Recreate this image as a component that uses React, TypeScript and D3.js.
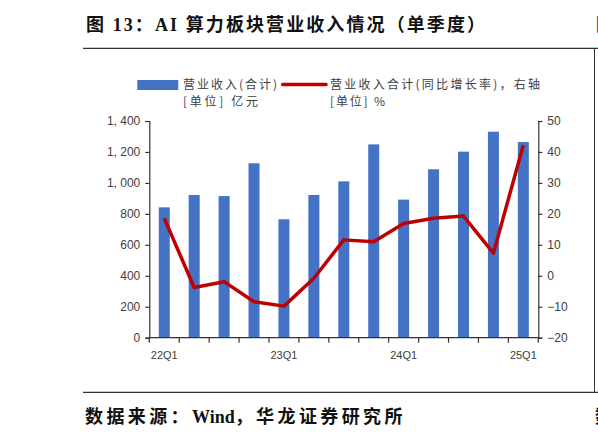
'use client';

import { useEffect, useRef } from 'react';
import * as d3 from 'd3';

// 季度营业收入（亿元）与同比增速（%）
const quarters = ['22Q1', '22Q2', '22Q3', '22Q4', '23Q1', '23Q2', '23Q3', '23Q4', '24Q1', '24Q2', '24Q3', '24Q4', '25Q1'];
const revenue = [842, 922, 915, 1127, 765, 922, 1010, 1249, 892, 1088, 1202, 1331, 1264];
const yoyGrowth = [18.6, -3.8, -1.9, -8.4, -9.8, -0.8, 11.6, 11.0, 16.9, 18.6, 19.3, 7.3, 42.2];
const xTickLabels = ['22Q1', '23Q1', '24Q1', '25Q1'];
const leftTicks = [0, 200, 400, 600, 800, 1000, 1200, 1400];
const rightTicks = [-20, -10, 0, 10, 20, 30, 40, 50];

const title = '图 13：AI 算力板块营业收入情况（单季度）';
const sourceParts = ['数据来源：', 'Wind', '，华龙证券研究所'];
const barLegend = ['营业收入(合计)', '[单位] 亿元'];
const lineLegend = ['营业收入合计(同比增长率)，右轴', '[单位] %'];

const W = 598;
const H = 441;

export default function App() {
    const svgRef = useRef<SVGSVGElement>(null);

    useEffect(() => {
        if (!svgRef.current) return;
        const svg = d3.select(svgRef.current);
        svg.selectAll('*').remove();

        const axisColor = '#333';
        const textColor = '#404040';
        const cjk = "'Noto Sans CJK SC', sans-serif";
        const serif = "'Liberation Serif', 'Noto Sans CJK SC', serif";

        const left = 149.3, right = 538.3, top = 121, bottom = 337.7;

        const x = d3.scaleBand<string>().domain(quarters).range([left, right]).padding(0);
        const yL = d3.scaleLinear().domain([0, 1400]).range([bottom, top]);
        const yR = d3.scaleLinear().domain([-20, 50]).range([bottom, top]);

        // frame lines + title/source
        svg.append('line').attr('x1', 83).attr('x2', W).attr('y1', 48.3).attr('y2', 48.3)
            .attr('stroke', axisColor).attr('stroke-width', 1.3);
        svg.append('line').attr('x1', 83).attr('x2', W).attr('y1', 392.3).attr('y2', 392.3)
            .attr('stroke', axisColor).attr('stroke-width', 1.3);
        svg.append('line').attr('x1', 594.5).attr('x2', 594.5).attr('y1', 48.3).attr('y2', 392.3)
            .attr('stroke', axisColor).attr('stroke-width', 1);

        svg.append('text').text(title)
            .attr('x', 86).attr('y', 31)
            .attr('textLength', 399).attr('lengthAdjust', 'spacing')
            .style('font-family', serif).style('font-weight', 700).style('font-size', '18px')
            .style('fill', '#111');
        // next column's title, cut by the page edge
        svg.append('text').text('图')
            .attr('x', 596).attr('y', 31)
            .style('font-family', serif).style('font-weight', 700).style('font-size', '18px')
            .style('fill', '#111');

        const src = svg.append('text')
            .attr('x', 85).attr('y', 423)
            .style('font-family', serif).style('font-weight', 700).style('font-size', '18px')
            .style('fill', '#111');
        src.selectAll('tspan')
            .data(sourceParts)
            .join('tspan')
            .text(d => d)
            .style('letter-spacing', d => (d === 'Wind' ? '0px' : '3.4px'));
        svg.append('text').text('数')
            .attr('x', 595).attr('y', 423)
            .style('font-family', serif).style('font-weight', 700).style('font-size', '18px')
            .style('fill', '#111');

        // legend
        const lg = svg.append('g');
        lg.append('rect').attr('x', 137.3).attr('y', 80).attr('width', 41).attr('height', 10).attr('fill', '#4472C4');
        lg.append('line').attr('x1', 282.7).attr('x2', 326).attr('y1', 84.5).attr('y2', 84.5)
            .attr('stroke', '#C00000').attr('stroke-width', 3.5).attr('stroke-linecap', 'round');
        const legendText = (s: string, lx: number, ly: number, len: number) =>
            lg.append('text').text(s).attr('x', lx).attr('y', ly)
                .attr('textLength', len).attr('lengthAdjust', 'spacing')
                .style('font-family', cjk).style('font-size', '12px').style('fill', textColor);
        legendText(barLegend[0], 183, 88.5, 94);
        legendText(barLegend[1], 183, 106, 75);
        legendText(lineLegend[0], 330, 88.5, 210);
        legendText(lineLegend[1], 330, 106, 55);

        // bars
        const barW = 11;
        svg.append('g')
            .selectAll('rect')
            .data(revenue)
            .join('rect')
            .attr('x', (d, i) => x(quarters[i])! + x.bandwidth() / 2 - barW / 2)
            .attr('y', d => yL(d))
            .attr('width', barW)
            .attr('height', d => yL(0) - yL(d))
            .attr('fill', '#4472C4');

        // axes
        const styleAxis = (g: d3.Selection<SVGGElement, unknown, null, undefined>) => {
            g.selectAll('path,line').attr('stroke', axisColor).attr('stroke-width', 1.2);
            g.selectAll('text')
                .style('font-family', "'Liberation Sans', Arial, sans-serif")
                .style('font-size', '12px')
                .style('fill', textColor);
        };

        svg.append('g')
            .attr('transform', `translate(${left},0)`)
            .call(d3.axisLeft(yL).tickValues(leftTicks).tickSize(4).tickPadding(5)
                .tickFormat(d => d3.format(',')(d as number).replace(',', ', ')))
            .call(styleAxis);

        svg.append('g')
            .attr('transform', `translate(${right},0)`)
            .call(d3.axisRight(yR).tickValues(rightTicks).tickSize(4).tickPadding(5))
            .call(styleAxis);

        // bottom axis: ticks on band boundaries, labels at band centres
        const xg = svg.append('g');
        xg.append('line').attr('x1', left).attr('x2', right).attr('y1', bottom).attr('y2', bottom)
            .attr('stroke', axisColor).attr('stroke-width', 1.2);
        const bounds = [...quarters.map(q => x(q)!), right];
        xg.selectAll('line.tick')
            .data(bounds)
            .join('line')
            .attr('class', 'tick')
            .attr('x1', d => d).attr('x2', d => d)
            .attr('y1', bottom).attr('y2', bottom + 5)
            .attr('stroke', axisColor).attr('stroke-width', 1.2);
        xg.selectAll('text')
            .data(xTickLabels)
            .join('text')
            .attr('x', d => x(d)! + x.bandwidth() / 2)
            .attr('y', 359)
            .attr('text-anchor', 'middle')
            .text(d => d)
            .style('font-family', "'Liberation Sans', Arial, sans-serif")
            .style('font-size', '11px')
            .style('fill', textColor);

        // growth line (right axis)
        const line = d3.line<number>()
            .x((d, i) => x(quarters[i])! + x.bandwidth() / 2)
            .y(d => yR(d));
        svg.append('path')
            .datum(yoyGrowth)
            .attr('d', line)
            .attr('fill', 'none')
            .attr('stroke', '#C00000')
            .attr('stroke-width', 3.5)
            .attr('stroke-linejoin', 'round');
    }, []);

    return <svg ref={svgRef} width={W} height={H} style={{ position: 'absolute', left: 0, top: 0, background: '#fff' }} />;
}
